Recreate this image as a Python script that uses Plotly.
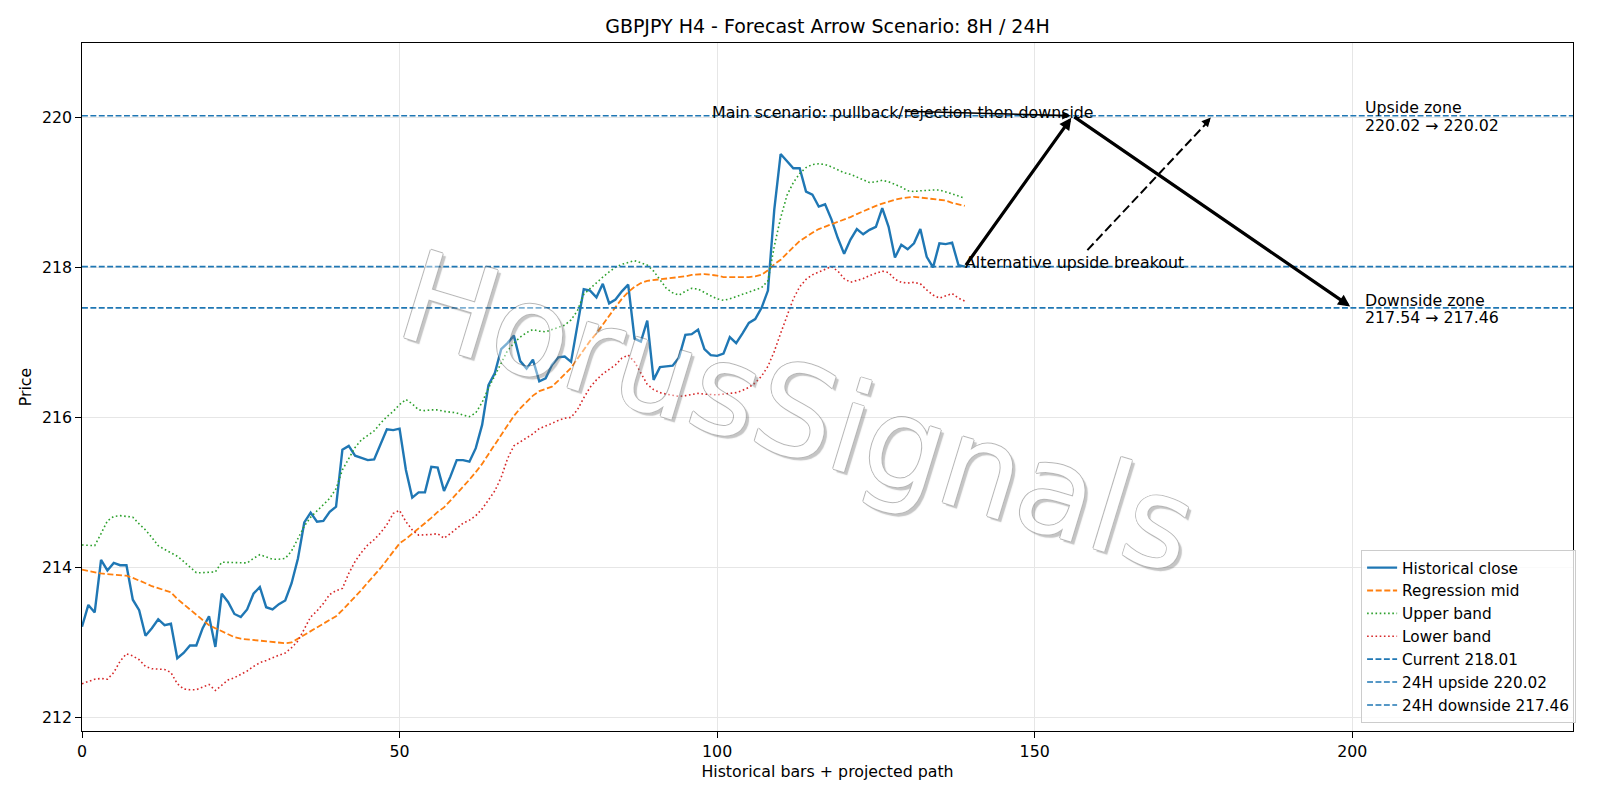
import plotly.graph_objects as go

# ---------------- data ----------------
bars = list(range(140))

close = [
    213.21, 213.50, 213.40, 214.10, 213.96, 214.06, 214.03, 214.03, 213.57, 213.43,
    213.09, 213.19, 213.31, 213.23, 213.25, 212.79, 212.86, 212.96, 212.96, 213.19,
    213.35, 212.94, 213.65, 213.54, 213.38, 213.34, 213.44, 213.65, 213.74, 213.47,
    213.44, 213.51, 213.56, 213.79, 214.12, 214.60, 214.73, 214.61, 214.62, 214.74,
    214.81, 215.57, 215.62, 215.49, 215.46, 215.43, 215.44, 215.63, 215.84, 215.83,
    215.85, 215.30, 214.93, 215.00, 215.00, 215.34, 215.33, 215.02, 215.21, 215.43,
    215.43, 215.41, 215.59, 215.90, 216.43, 216.59, 216.91, 216.99, 217.09, 216.75,
    216.65, 216.77, 216.48, 216.52, 216.70, 216.80, 216.81, 216.74, 217.25, 217.71,
    217.69, 217.60, 217.78, 217.52, 217.57, 217.68, 217.77, 217.05, 217.01, 217.29,
    216.50, 216.67, 216.68, 216.69, 216.80, 217.10, 217.11, 217.17, 216.91, 216.83,
    216.82, 216.85, 217.07, 216.99, 217.12, 217.26, 217.31, 217.46, 217.69, 218.77,
    219.51, 219.41, 219.32, 219.32, 219.01, 218.97, 218.81, 218.84, 218.64, 218.39,
    218.18, 218.37, 218.51, 218.44, 218.50, 218.54, 218.79, 218.54, 218.13, 218.30,
    218.24, 218.32, 218.51, 218.14, 218.00, 218.32, 218.31, 218.33, 218.03, 218.01,
]

mid = [
    213.97, 213.95, 213.93, 213.92, 213.91, 213.90, 213.89, 213.89, 213.86, 213.83,
    213.79, 213.75, 213.72, 213.70, 213.67, 213.58, 213.51, 213.44, 213.37, 213.30,
    213.23, 213.19, 213.15, 213.11, 213.07, 213.05, 213.04, 213.04, 213.03, 213.02,
    213.00, 212.99, 212.99, 213.00, 213.05, 213.10, 213.15, 213.19, 213.24, 213.29,
    213.35, 213.43, 213.52, 213.60, 213.70, 213.80, 213.89, 213.99, 214.10, 214.21,
    214.32, 214.38, 214.45, 214.51, 214.59, 214.66, 214.74, 214.80, 214.89, 214.98,
    215.07, 215.17, 215.27, 215.38, 215.51, 215.64, 215.77, 215.90, 216.02, 216.12,
    216.20, 216.29, 216.35, 216.38, 216.41, 216.49, 216.58, 216.66, 216.78, 216.90,
    217.02, 217.12, 217.24, 217.35, 217.47, 217.58, 217.67, 217.74, 217.79, 217.82,
    217.83, 217.84, 217.85, 217.86, 217.87, 217.88, 217.90, 217.91, 217.91, 217.90,
    217.89, 217.87, 217.87, 217.87, 217.87, 217.87, 217.88, 217.90, 217.96, 218.04,
    218.10, 218.19, 218.27, 218.35, 218.41, 218.46, 218.51, 218.54, 218.57, 218.60,
    218.63, 218.67, 218.71, 218.75, 218.78, 218.82, 218.85, 218.88, 218.90, 218.92,
    218.93, 218.94, 218.93, 218.92, 218.91, 218.90, 218.89, 218.86, 218.84, 218.82,
]

upper = [
    214.30, 214.30, 214.29, 214.45, 214.62, 214.68, 214.69, 214.68, 214.67, 214.58,
    214.50, 214.40, 214.29, 214.24, 214.19, 214.15, 214.08, 214.00, 213.93, 213.93,
    213.93, 213.94, 214.07, 214.07, 214.06, 214.06, 214.06, 214.12, 214.17, 214.14,
    214.11, 214.11, 214.12, 214.22, 214.38, 214.55, 214.67, 214.75, 214.83, 214.92,
    215.05, 215.30, 215.45, 215.60, 215.70, 215.76, 215.82, 215.92, 216.01, 216.08,
    216.17, 216.24, 216.18, 216.10, 216.09, 216.10, 216.10, 216.08, 216.07, 216.06,
    216.03, 216.01, 216.06, 216.20, 216.39, 216.55, 216.72, 216.89, 216.99, 217.07,
    217.13, 217.17, 217.15, 217.14, 217.17, 217.20, 217.23, 217.30, 217.42, 217.64,
    217.72, 217.79, 217.87, 217.94, 218.00, 218.04, 218.07, 218.09, 218.06, 218.03,
    217.95, 217.83, 217.72, 217.66, 217.63, 217.68, 217.72, 217.71, 217.66, 217.62,
    217.58, 217.56, 217.58, 217.61, 217.63, 217.66, 217.69, 217.73, 217.82, 218.28,
    218.66, 218.96, 219.13, 219.25, 219.33, 219.37, 219.38, 219.37, 219.34, 219.30,
    219.26, 219.24, 219.20, 219.16, 219.13, 219.14, 219.16, 219.14, 219.11, 219.07,
    219.02, 219.01, 219.02, 219.03, 219.03, 219.03, 219.01, 218.98, 218.95, 218.92,
]

lower = [
    212.45, 212.48, 212.51, 212.52, 212.51, 212.60, 212.75, 212.85, 212.82, 212.77,
    212.68, 212.65, 212.64, 212.64, 212.60, 212.45, 212.38, 212.37, 212.37, 212.40,
    212.44, 212.36, 212.43, 212.50, 212.53, 212.57, 212.62, 212.68, 212.73, 212.76,
    212.80, 212.83, 212.86, 212.93, 213.02, 213.18, 213.34, 213.42, 213.52, 213.64,
    213.69, 213.72, 213.92, 214.08, 214.20, 214.30, 214.37, 214.46, 214.57, 214.72,
    214.76, 214.61, 214.50, 214.43, 214.43, 214.44, 214.45, 214.39, 214.45, 214.52,
    214.59, 214.63, 214.69, 214.78, 214.90, 215.02, 215.20, 215.45, 215.62, 215.67,
    215.72, 215.78, 215.85, 215.88, 215.92, 215.96, 215.99, 216.00, 216.10, 216.26,
    216.40, 216.50, 216.58, 216.64, 216.70, 216.79, 216.83, 216.74, 216.58, 216.44,
    216.37, 216.33, 216.31, 216.30, 216.28, 216.29, 216.31, 216.32, 216.31, 216.30,
    216.30, 216.31, 216.32, 216.33, 216.36, 216.40, 216.46, 216.55, 216.68, 216.88,
    217.12, 217.35, 217.58, 217.74, 217.84, 217.90, 217.94, 217.98, 218.01, 217.95,
    217.85, 217.80, 217.82, 217.85, 217.89, 217.92, 217.95, 217.93, 217.84, 217.80,
    217.79, 217.80, 217.78, 217.70, 217.63, 217.59, 217.62, 217.65, 217.59, 217.55,
]

current_level = 218.01
upside_level = 220.02
downside_level = 217.46
downside_zone_from = 217.54
upside_zone_from = 220.02

last_bar = 139       # last historical bar
peak_bar = 156       # main scenario: pullback top
target_bar = 200     # main scenario: downside target
alt_bar = 178        # alternative upside target
zone_label_bar = 202
main_label_bar = 129.3

x_range = [0, 234.76]
y_range = [211.82, 220.99]

title_text = "GBPJPY H4 - Forecast Arrow Scenario: 8H / 24H"

# ---------------- style ----------------
FONT = "DejaVu Sans"
FS = 15.8
BLUE = "#1f77b4"
ORANGE = "#ff7f0e"
GREEN = "#2ca02c"
RED = "#d62728"
GRID = "#e6e6e6"
LW_AX = 1.27

fig = go.Figure()

fig.add_trace(go.Scatter(x=bars, y=close, mode="lines", name="Historical close",
                         line=dict(color=BLUE, width=2.4)))
fig.add_trace(go.Scatter(x=bars, y=mid, mode="lines", name="Regression mid",
                         line=dict(color=ORANGE, width=1.8, dash="6px,2.6px")))
fig.add_trace(go.Scatter(x=bars, y=upper, mode="lines", name="Upper band",
                         line=dict(color=GREEN, width=1.6, dash="1.6px,2.6px")))
fig.add_trace(go.Scatter(x=bars, y=lower, mode="lines", name="Lower band",
                         line=dict(color=RED, width=1.6, dash="1.6px,2.6px")))

levels = [
    (current_level, f"Current {current_level:.2f}"),
    (upside_level, f"24H upside {upside_level:.2f}"),
    (downside_level, f"24H downside {downside_level:.2f}"),
]
for lvl, name in levels:
    fig.add_trace(go.Scatter(x=x_range, y=[lvl, lvl], mode="lines", name=name,
                             line=dict(color=BLUE, width=1.6, dash="5.9px,2.5px")))

annotations = []

# watermark
annotations.append(dict(
    text="HorusSignals", xref="paper", yref="paper", x=0.48, y=0.463,
    xanchor="center", yanchor="middle", showarrow=False, textangle=17,
    opacity=0.42,
    font=dict(family=FONT, size=126, color="white",
              shadow=("1px 0 0 #555555, -1px 0 0 #555555, 0 1px 0 #555555, 0 -1px 0 #555555, "
                      "4px 2px 1px #777777"))))

# main scenario arrows
annotations.append(dict(x=peak_bar, y=upside_level, ax=last_bar, ay=current_level,
                        xref="x", yref="y", axref="x", ayref="y", text="", showarrow=True,
                        arrowhead=2, arrowsize=0.75, arrowwidth=3.2, arrowcolor="black",
                        standoff=2.5))
annotations.append(dict(x=target_bar, y=downside_level, ax=peak_bar, ay=upside_level,
                        xref="x", yref="y", axref="x", ayref="y", text="", showarrow=True,
                        arrowhead=2, arrowsize=0.75, arrowwidth=3.2, arrowcolor="black",
                        standoff=2.5))
# label arrow
annotations.append(dict(x=peak_bar, y=upside_level, ax=main_label_bar, ay=upside_level + 0.06,
                        xref="x", yref="y", axref="x", ayref="y", text="", showarrow=True,
                        arrowhead=2, arrowsize=1, arrowwidth=1.6, arrowcolor="black",
                        standoff=2.5))
annotations.append(dict(x=main_label_bar, y=upside_level, xref="x", yref="y",
                        text="Main scenario: pullback/rejection then downside", showarrow=False,
                        xanchor="center", yanchor="bottom", yshift=-8,
                        font=dict(family=FONT, size=FS, color="black")))

# alternative scenario
annotations.append(dict(x=last_bar, y=current_level, xref="x", yref="y",
                        text="Alternative upside breakout", showarrow=False,
                        xanchor="left", yanchor="bottom", yshift=-7, xshift=-2,
                        font=dict(family=FONT, size=FS, color="black")))
annotations.append(dict(x=alt_bar, y=upside_level, xref="x", yref="y", ax=-9, ay=9.7,
                        text="", showarrow=True, arrowhead=2, arrowsize=0.9, arrowwidth=2,
                        arrowcolor="black", standoff=2.5))

# zone labels (two lines each, tight line spacing)
zone_labels = [
    (upside_level, "Upside zone", f"{upside_zone_from:.2f} \u2192 {upside_level:.2f}"),
    (downside_level, "Downside zone", f"{downside_zone_from:.2f} \u2192 {downside_level:.2f}"),
]
for lvl, line1, line2 in zone_labels:
    annotations.append(dict(x=zone_label_bar, y=lvl, xref="x", yref="y", text=line1,
                            showarrow=False, xanchor="left", yanchor="middle", align="left",
                            xshift=-2, yshift=7.8, font=dict(family=FONT, size=FS, color="black")))
    annotations.append(dict(x=zone_label_bar, y=lvl, xref="x", yref="y", text=line2,
                            showarrow=False, xanchor="left", yanchor="middle", align="left",
                            xshift=-2, yshift=-9.6, font=dict(family=FONT, size=FS, color="black")))

shapes = [dict(type="line", xref="x", yref="y", x0=158.3, y0=218.23, x1=alt_bar - 0.3,
               y1=upside_level - 0.04, line=dict(color="black", width=2, dash="9px,4px"))]

fig.update_layout(
    width=1600, height=800,
    margin=dict(l=81.6, r=26.5, t=42.9, b=69.4),
    paper_bgcolor="white", plot_bgcolor="white",
    font=dict(family=FONT, size=FS, color="black"),
    title=dict(text=title_text, x=0.5, xref="paper", xanchor="center", y=1, yref="paper",
               yanchor="bottom", pad=dict(b=10), font=dict(size=19, color="black")),
    xaxis=dict(range=x_range, dtick=50, tick0=0, showgrid=True, gridcolor=GRID, gridwidth=1.2,
               zeroline=False, showline=True, mirror=True, linecolor="black", linewidth=LW_AX,
               ticks="outside", ticklen=5.6, tickwidth=LW_AX, tickcolor="black",
               tickfont=dict(size=FS), title=dict(text="Historical bars + projected path",
                                                  standoff=6, font=dict(size=FS))),
    yaxis=dict(range=y_range, dtick=2, tick0=212, showgrid=True, gridcolor=GRID, gridwidth=1.2,
               zeroline=False, showline=True, mirror=True, linecolor="black", linewidth=LW_AX,
               ticks="outside", ticklen=5.6, tickwidth=LW_AX, tickcolor="black",
               tickfont=dict(size=FS), title=dict(text="Price", standoff=6, font=dict(size=FS))),
    legend=dict(x=1.0019, y=0.0118, xanchor="right", yanchor="bottom",
                bgcolor="rgba(255,255,255,0.8)", bordercolor="#cccccc", borderwidth=1.27,
                font=dict(size=15.3), itemwidth=30, traceorder="normal"),
    annotations=annotations,
    shapes=shapes,
    showlegend=True,
)

fig.write_html("out.html")
